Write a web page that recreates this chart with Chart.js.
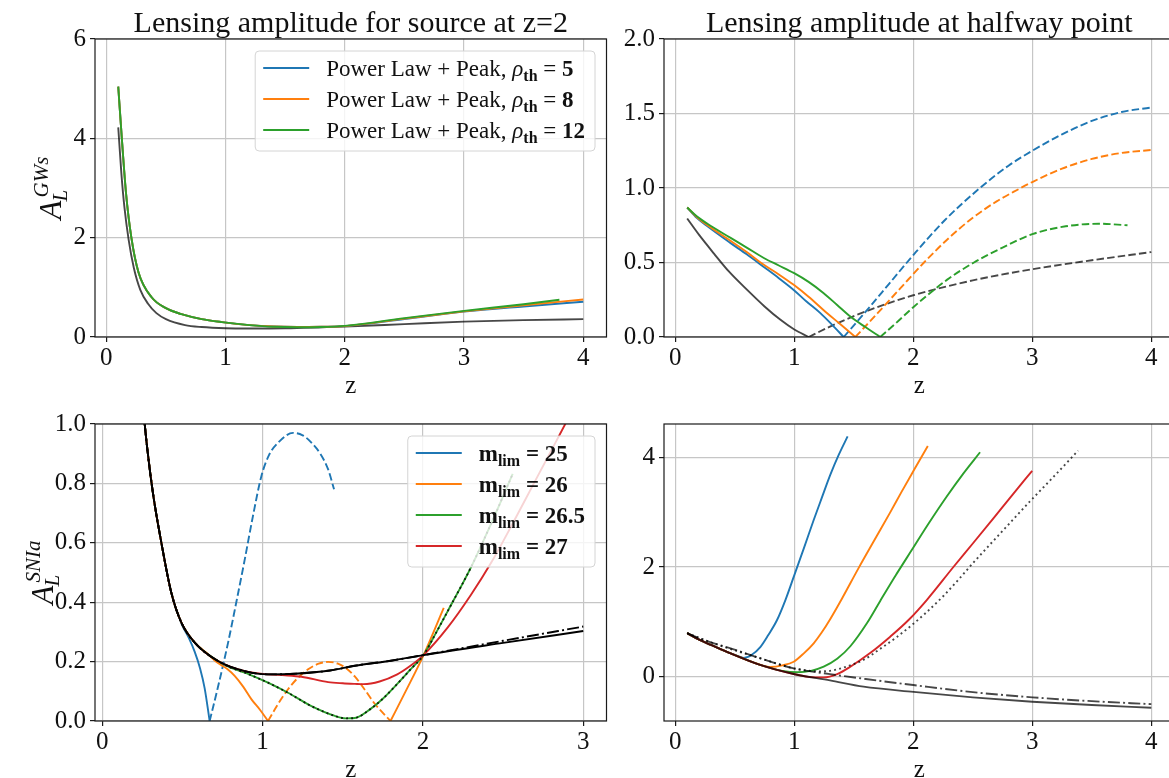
<!DOCTYPE html>
<html>
<head>
<meta charset="utf-8">
<script src="https://cdn.jsdelivr.net/npm/chart.js@4.4.3/dist/chart.umd.min.js"></script>
<style>
  html, body { margin: 0; padding: 0; background: #fff; overflow: hidden; width: 1169px; height: 778px; }
  canvas { position: absolute; }
</style>
</head>
<body>
<canvas id="c-tl" width="617" height="397" style="left:0;top:0"></canvas>
<canvas id="c-tr" width="616" height="397" style="left:569px;top:0"></canvas>
<canvas id="c-bl" width="617" height="393" style="left:0;top:385px"></canvas>
<canvas id="c-br" width="616" height="393" style="left:569px;top:385px"></canvas>
<script>
// ---- top left: lensing amplitude, source at z=2 (GWs)
const tlZBlack = [0.1, 0.126, 0.151, 0.187, 0.23, 0.285, 0.35, 0.42, 0.5, 0.66, 0.8, 1.0, 1.2, 1.5, 2.0, 2.5, 3.0, 3.5, 4.0];
const tlBlack = [4.22, 3.3, 2.63, 1.96, 1.4, 0.95, 0.67, 0.48, 0.36, 0.24, 0.2, 0.175, 0.17, 0.175, 0.21, 0.26, 0.31, 0.34, 0.36];
const tlZPeak = [0.1, 0.13, 0.165, 0.21, 0.27, 0.38, 0.5, 0.63, 0.8, 0.97, 1.2, 1.4, 1.6, 1.8, 2.0, 2.5, 3.0, 3.5, 4.0];
const tlRho5 = [5.04, 4.0, 2.9, 2.0, 1.3, 0.8, 0.58, 0.46, 0.36, 0.3, 0.24, 0.21, 0.2, 0.205, 0.22, 0.36, 0.51, 0.615, 0.71];
const tlRho8 = [5.04, 4.0, 2.9, 2.0, 1.3, 0.8, 0.58, 0.46, 0.36, 0.3, 0.24, 0.21, 0.2, 0.205, 0.22, 0.37, 0.515, 0.64, 0.755];
const tlZRho12 = [0.1, 0.13, 0.165, 0.21, 0.27, 0.38, 0.5, 0.63, 0.8, 0.97, 1.2, 1.4, 1.6, 1.8, 2.0, 2.5, 3.0, 3.5, 3.8];
const tlRho12 = [5.04, 4.0, 2.9, 2.0, 1.3, 0.8, 0.58, 0.46, 0.36, 0.3, 0.24, 0.205, 0.195, 0.2, 0.225, 0.38, 0.525, 0.66, 0.75];
const tlRhoTh = [5, 8, 12];
const tlXTicks = [0, 1, 2, 3, 4];
const tlYTicks = [0, 2, 4, 6];

// ---- top right: halfway point (solid = positive branch, dashed = sign flipped)
const trZBlackS = [0.1, 0.2, 0.325, 0.45, 0.604, 0.75, 0.884, 1.0, 1.121];
const trBlackS = [0.795, 0.685, 0.56, 0.44, 0.316, 0.205, 0.115, 0.05, 0];
const trZBlackD = [1.121, 1.3, 1.5, 1.75, 2.0, 2.5, 3.0, 3.5, 4.0];
const trBlackD = [0, 0.07, 0.14, 0.215, 0.28, 0.38, 0.455, 0.515, 0.57];
const trZBlueS = [0.1, 0.18, 0.27, 0.465, 0.6, 0.744, 0.87, 0.995, 1.1, 1.219, 1.32, 1.415];
const trBlueS = [0.869, 0.8, 0.743, 0.63, 0.555, 0.47, 0.395, 0.316, 0.24, 0.16, 0.08, 0];
const trZBlueD = [1.415, 1.6, 1.8, 2.0, 2.26, 2.56, 2.8, 3.0, 3.25, 3.5, 3.75, 4.0];
const trBlueD = [0, 0.17, 0.36, 0.55, 0.78, 1.0, 1.15, 1.25, 1.36, 1.45, 1.51, 1.54];
const trZOrangeS = [0.1, 0.18, 0.27, 0.465, 0.6, 0.744, 0.87, 0.995, 1.12, 1.247, 1.38, 1.513];
const trOrangeS = [0.869, 0.805, 0.75, 0.645, 0.57, 0.485, 0.42, 0.35, 0.27, 0.18, 0.09, 0];
const trZOrangeD = [1.513, 1.7, 1.9, 2.09, 2.3, 2.5, 2.7, 2.88, 3.0, 3.25, 3.5, 3.75, 4.0];
const trOrangeD = [0, 0.16, 0.335, 0.5, 0.665, 0.8, 0.91, 0.99, 1.04, 1.13, 1.195, 1.235, 1.255];
const trZGreenS = [0.1, 0.18, 0.27, 0.465, 0.6, 0.744, 0.87, 0.995, 1.12, 1.247, 1.36, 1.471, 1.6, 1.722];
const trGreenS = [0.869, 0.81, 0.76, 0.665, 0.6, 0.53, 0.48, 0.43, 0.37, 0.294, 0.215, 0.137, 0.065, 0];
const trZGreenD = [1.722, 1.85, 2.0, 2.285, 2.51, 2.75, 3.0, 3.28, 3.56, 3.8];
const trGreenD = [0, 0.09, 0.2, 0.385, 0.5, 0.6, 0.69, 0.743, 0.76, 0.75];
const trYTicks = [0, 0.5, 1, 1.5, 2];

// ---- bottom left: SNIa
const blZBlack = [0.2, 0.235, 0.265, 0.29, 0.316, 0.369, 0.431, 0.494, 0.577, 0.722, 0.889, 1.034, 1.2, 1.42, 1.576, 1.8, 2.004, 2.5, 3.0];
const blBlack = [1.55, 1.2, 1.0, 0.875, 0.769, 0.6, 0.432, 0.331, 0.264, 0.202, 0.168, 0.157, 0.159, 0.17, 0.186, 0.203, 0.222, 0.263, 0.303];
const blBlackDD = [1.55, 1.2, 1.0, 0.875, 0.769, 0.6, 0.432, 0.331, 0.264, 0.202, 0.168, 0.157, 0.159, 0.17, 0.186, 0.203, 0.222, 0.27, 0.318];
const blZBlueS = [0.2, 0.235, 0.265, 0.316, 0.369, 0.431, 0.494, 0.54, 0.577, 0.61, 0.639, 0.67];
const blBlueS = [1.55, 1.2, 1.0, 0.769, 0.6, 0.432, 0.328, 0.28, 0.233, 0.178, 0.11, 0];
const blZBlueD = [0.67, 0.72, 0.785, 0.84, 0.889, 0.94, 0.993, 1.04, 1.097, 1.19, 1.25, 1.3, 1.36, 1.409, 1.446];
const blBlueD = [0, 0.11, 0.264, 0.41, 0.544, 0.69, 0.825, 0.895, 0.937, 0.97, 0.962, 0.94, 0.9, 0.847, 0.78];
const blZOrangeS1 = [0.2, 0.235, 0.265, 0.316, 0.369, 0.431, 0.494, 0.577, 0.65, 0.722, 0.78, 0.826, 0.88, 0.931, 0.985, 1.034];
const blOrangeS1 = [1.55, 1.2, 1.0, 0.769, 0.6, 0.432, 0.331, 0.264, 0.23, 0.195, 0.175, 0.152, 0.115, 0.073, 0.037, 0];
const blZOrangeD = [1.034, 1.1, 1.159, 1.22, 1.284, 1.35, 1.409, 1.47, 1.52, 1.575, 1.63, 1.7, 1.798];
const blOrangeD = [0, 0.06, 0.107, 0.145, 0.174, 0.193, 0.199, 0.193, 0.178, 0.15, 0.111, 0.058, 0];
const blZOrangeS2 = [1.798, 1.9, 2.004, 2.13];
const blOrangeS2 = [0, 0.108, 0.222, 0.381];
const blZGreen = [0.2, 0.235, 0.265, 0.316, 0.369, 0.431, 0.494, 0.577, 0.722, 0.8, 0.889, 0.96, 1.034, 1.159, 1.305, 1.451, 1.52, 1.576, 1.672, 1.75, 1.84, 1.92, 2.004, 2.08, 2.155, 2.302, 2.43, 2.56];
const blGreen = [1.55, 1.2, 1.0, 0.769, 0.6, 0.432, 0.331, 0.264, 0.202, 0.18, 0.163, 0.147, 0.129, 0.095, 0.05, 0.017, 0.009, 0.01, 0.04, 0.075, 0.125, 0.172, 0.222, 0.295, 0.37, 0.52, 0.67, 0.832];
const blZRed = [0.2, 0.235, 0.265, 0.316, 0.369, 0.431, 0.494, 0.577, 0.722, 0.889, 1.034, 1.14, 1.243, 1.409, 1.5, 1.576, 1.63, 1.73, 1.84, 1.92, 2.004, 2.155, 2.3, 2.428, 2.55, 2.692, 2.8, 2.907, 3.0];
const blRed = [1.55, 1.2, 1.0, 0.769, 0.6, 0.432, 0.331, 0.264, 0.202, 0.168, 0.157, 0.154, 0.149, 0.131, 0.127, 0.125, 0.124, 0.133, 0.157, 0.185, 0.222, 0.315, 0.425, 0.535, 0.655, 0.8, 0.91, 1.02, 1.12];
const blMlim = [25, 26, 26.5, 27];
const blXTicks = [0, 1, 2, 3];
const blYTicks = [0, 0.2, 0.4, 0.6, 0.8, 1.0];

// ---- bottom right
const brZBlack = [0.1, 0.2, 0.3, 0.465, 0.7, 0.995, 1.3, 1.582, 2.002, 2.5, 3.0, 3.5, 4.0];
const brBlack = [0.79, 0.67, 0.575, 0.42, 0.22, 0.042, -0.075, -0.19, -0.285, -0.385, -0.465, -0.525, -0.575];
const brZDash = [0.1, 0.2, 0.3, 0.465, 0.7, 0.995, 1.3, 1.6, 2.0, 2.5, 3.0, 3.5, 4.0];
const brDash = [0.79, 0.7, 0.62, 0.512, 0.34, 0.146, 0.04, -0.05, -0.16, -0.29, -0.385, -0.455, -0.51];
const brZBlue = [0.1, 0.2, 0.3, 0.465, 0.54, 0.576, 0.64, 0.716, 0.78, 0.855, 0.926, 0.995, 1.08, 1.163, 1.23, 1.303, 1.375, 1.448];
const brBlue = [0.79, 0.67, 0.575, 0.42, 0.36, 0.335, 0.39, 0.54, 0.75, 1.03, 1.4, 1.82, 2.34, 2.86, 3.26, 3.69, 4.06, 4.39];
const brZOrange = [0.1, 0.2, 0.3, 0.465, 0.7, 0.8, 0.9, 0.995, 1.08, 1.163, 1.23, 1.3, 1.4, 1.54, 1.67, 1.806, 1.9, 2.002, 2.122];
const brOrange = [0.79, 0.67, 0.575, 0.42, 0.22, 0.17, 0.2, 0.267, 0.42, 0.604, 0.8, 1.04, 1.42, 1.98, 2.48, 3.0, 3.37, 3.76, 4.214];
const brZGreen = [0.1, 0.2, 0.3, 0.465, 0.7, 0.9, 1.023, 1.14, 1.247, 1.36, 1.471, 1.61, 1.722, 1.85, 1.987, 2.13, 2.281, 2.42, 2.561];
const brGreen = [0.79, 0.67, 0.575, 0.42, 0.22, 0.1, 0.075, 0.1, 0.176, 0.32, 0.55, 0.97, 1.38, 1.84, 2.31, 2.8, 3.29, 3.71, 4.1];
const brZRed = [0.1, 0.2, 0.3, 0.465, 0.7, 0.995, 1.12, 1.247, 1.36, 1.471, 1.64, 1.806, 1.96, 2.113, 2.337, 2.5, 2.673, 2.84, 2.999];
const brRed = [0.79, 0.67, 0.575, 0.42, 0.22, 0.042, -0.01, -0.02, 0.04, 0.176, 0.43, 0.725, 1.03, 1.396, 2.0, 2.43, 2.89, 3.34, 3.76];
const brZDot = [0.1, 0.3, 0.7, 0.995, 1.1, 1.2, 1.3, 1.4, 1.48, 1.582, 1.72, 1.862, 2.0, 2.1, 2.253, 2.38, 2.505, 2.75, 2.98, 3.2, 3.385];
const brDot = [0.79, 0.62, 0.34, 0.146, 0.11, 0.09, 0.1, 0.15, 0.21, 0.3, 0.5, 0.72, 0.96, 1.15, 1.47, 1.77, 2.08, 2.66, 3.2, 3.7, 4.13];
const brYTicks = [0, 2, 4];

const BLUE = "#1f77b4", ORANGE = "#ff7f0e", GREEN = "#2ca02c", RED = "#d62728";
const GREY = "rgba(0,0,0,0.72)", BLACK = "#000";
const INK = "#111";
const SERIF = '"Liberation Serif", "DejaVu Serif", serif';
const LW = 1.9;
const DASH = [7.5, 3.2];
const DASHDOT = [12, 3.2, 2, 3.2];
const DOT = [1.9, 3.2];

function series(zs, ys, color, dash) {
  return {
    data: zs.map((z, i) => ({ x: z, y: ys[i] })),
    borderColor: color, borderWidth: LW, borderDash: dash || [],
    pointRadius: 0, fill: false, cubicInterpolationMode: "monotone",
  };
}

function rich(ctx, x, y, parts, measure) {
  let cx = x;
  for (const p of parts) {
    ctx.font = `${p.it ? "italic " : ""}${p.b ? "bold " : ""}${p.s || 23}px ${SERIF}`;
    if (!measure) ctx.fillText(p.t, cx, y + (p.dy || 0));
    cx += ctx.measureText(p.t).width;
  }
  return cx - x;
}

function roundBox(ctx, x, y, w, h, r) {
  ctx.beginPath();
  ctx.moveTo(x + r, y);
  ctx.arcTo(x + w, y, x + w, y + h, r);
  ctx.arcTo(x + w, y + h, x, y + h, r);
  ctx.arcTo(x, y + h, x, y, r);
  ctx.arcTo(x, y, x + w, y, r);
  ctx.closePath();
}

function drawLegend(ctx, a, items) {
  ctx.textAlign = "left"; ctx.textBaseline = "alphabetic";
  const tw = Math.max(...items.map((it) => rich(ctx, 0, 0, it.parts, true)));
  const w = 71 + tw + 10, h = items.length * 31 + 7;
  const right = a.right - 11.5, left = right - w, top = a.top + 12;
  roundBox(ctx, left, top, w, h, 4);
  ctx.fillStyle = "rgba(255,255,255,0.8)"; ctx.fill();
  ctx.strokeStyle = "#d4d4d4"; ctx.lineWidth = 1; ctx.setLineDash([]); ctx.stroke();
  items.forEach((it, i) => {
    const cy = top + 17 + i * 31;
    ctx.beginPath(); ctx.moveTo(left + 8, cy); ctx.lineTo(left + 54, cy);
    ctx.strokeStyle = it.color; ctx.lineWidth = LW; ctx.stroke();
    ctx.fillStyle = INK;
    rich(ctx, left + 71, cy + 7.5, it.parts, false);
  });
}

function drawYLabel(ctx, a, lab) {
  ctx.save();
  ctx.translate(lab.x, (a.top + a.bottom) / 2);
  ctx.rotate(-Math.PI / 2);
  ctx.fillStyle = INK; ctx.textAlign = "left"; ctx.textBaseline = "alphabetic";
  ctx.font = `italic 31px ${SERIF}`;
  const wA = ctx.measureText("A").width;
  ctx.font = `italic 21px ${SERIF}`;
  const wS = Math.max(ctx.measureText(lab.sup).width + 3, ctx.measureText("L").width);
  let x = -(wA + wS) / 2;
  ctx.font = `italic 31px ${SERIF}`;
  ctx.fillText("A", x, 0);
  x += wA;
  ctx.font = `italic 21px ${SERIF}`;
  ctx.fillText(lab.sup, x + 3, -13);
  ctx.fillText("L", x - 1, 6);
  ctx.restore();
}

const deco = {
  id: "deco",
  afterDatasetsDraw(chart, args, o) {
    const { ctx, chartArea: a } = chart;
    ctx.save();
    ctx.setLineDash([]);
    ctx.strokeStyle = "#1a1a1a"; ctx.lineWidth = 1.2;
    ctx.strokeRect(a.left, a.top, a.right - a.left, a.bottom - a.top);
    ctx.fillStyle = INK; ctx.textAlign = "center"; ctx.textBaseline = "alphabetic";
    if (o.title) {
      ctx.font = `30px ${SERIF}`;
      ctx.fillText(o.title, (a.left + a.right) / 2, a.top - 7);
    }
    ctx.font = `25px ${SERIF}`;
    ctx.fillText("z", (a.left + a.right) / 2, a.bottom + 56);
    if (o.ylabel) drawYLabel(ctx, a, o.ylabel);
    if (o.legend) drawLegend(ctx, a, o.legend);
    ctx.restore();
  },
};

const GRID = { color: "#c6c6c6", lineWidth: 1.2, tickColor: "#1a1a1a", tickLength: 5, tickWidth: 1.2 };

function panel(id, o) {
  const n = o.series.length;
  const datasets = o.series.map((s, i) => ({ ...s, order: n - i }));
  return new Chart(document.getElementById(id), {
    type: "line",
    data: { datasets },
    options: {
      responsive: false, animation: false, events: [],
      layout: { padding: { top: 39, right: 10.5, left: 0, bottom: 0 } },
      plugins: { legend: { display: false }, tooltip: { enabled: false }, deco: o.deco },
      scales: {
        x: {
          type: "linear", min: o.xMin, max: o.xMax,
          afterFit: (s) => { s.height = o.xH; },
          afterBuildTicks: (s) => { s.ticks = o.xTicks.map((v) => ({ value: v })); },
          grid: GRID, border: { display: false },
          ticks: { color: INK, padding: 1, font: { family: SERIF, size: 25 }, maxRotation: 0, callback: (v) => v.toFixed(0) },
        },
        y: {
          type: "linear", min: o.yMin, max: o.yMax,
          afterFit: (s) => { s.width = 95; },
          afterBuildTicks: (s) => { s.ticks = o.yTicks.map((v) => ({ value: v })); },
          grid: GRID, border: { display: false },
          ticks: { color: INK, padding: 4, font: { family: SERIF, size: 25 }, callback: (v) => v.toFixed(o.yDec) },
        },
      },
    },
    plugins: [deco],
  });
}

const rhoParts = (v) => [{ t: "Power Law + Peak, " }, { t: "ρ", it: true }, { t: "th", b: true, s: 16, dy: 5 }, { t: " = " }, { t: String(v), b: true }];
const mlimParts = (v) => [{ t: "m", b: true }, { t: "lim", b: true, s: 16, dy: 5 }, { t: " = ", b: true }, { t: String(v), b: true }];

panel("c-tl", {
  xMin: -0.095, xMax: 4.195, yMin: 0, yMax: 6, yDec: 0, xH: 60,
  xTicks: tlXTicks, yTicks: tlYTicks,
  series: [
    series(tlZBlack, tlBlack, GREY),
    series(tlZPeak, tlRho5, BLUE),
    series(tlZPeak, tlRho8, ORANGE),
    series(tlZRho12, tlRho12, GREEN),
  ],
  deco: {
    title: "Lensing amplitude for source at z=2",
    ylabel: { x: 61, sup: "GWs" },
    legend: [BLUE, ORANGE, GREEN].map((c, i) => ({ color: c, parts: rhoParts(tlRhoTh[i]) })),
  },
});

panel("c-tr", {
  xMin: -0.095, xMax: 4.195, yMin: 0, yMax: 2, yDec: 1, xH: 60,
  xTicks: tlXTicks, yTicks: trYTicks,
  series: [
    series(trZBlackS, trBlackS, GREY),
    series(trZBlackD, trBlackD, GREY, DASH),
    series(trZBlueS, trBlueS, BLUE),
    series(trZBlueD, trBlueD, BLUE, DASH),
    series(trZOrangeS, trOrangeS, ORANGE),
    series(trZOrangeD, trOrangeD, ORANGE, DASH),
    series(trZGreenS, trGreenS, GREEN),
    series(trZGreenD, trGreenD, GREEN, DASH),
  ],
  deco: { title: "Lensing amplitude at halfway point" },
});

panel("c-bl", {
  xMin: -0.045, xMax: 3.145, yMin: 0, yMax: 1, yDec: 1, xH: 57,
  xTicks: blXTicks, yTicks: blYTicks,
  series: [
    series(blZBlueS, blBlueS, BLUE),
    series(blZBlueD, blBlueD, BLUE, DASH),
    series(blZOrangeS1, blOrangeS1, ORANGE),
    series(blZOrangeD, blOrangeD, ORANGE, DASH),
    series(blZOrangeS2, blOrangeS2, ORANGE),
    series(blZGreen, blGreen, GREEN),
    series(blZRed, blRed, RED),
    series(blZBlack, blBlack, BLACK),
    series(blZBlack, blBlackDD, BLACK, DASHDOT),
    series(blZGreen, blGreen, "rgba(0,0,0,0.8)", DOT),
  ],
  deco: {
    ylabel: { x: 53, sup: "SNIa" },
    legend: [BLUE, ORANGE, GREEN, RED].map((c, i) => ({ color: c, parts: mlimParts(blMlim[i]) })),
  },
});

panel("c-br", {
  xMin: -0.095, xMax: 4.195, yMin: -0.818, yMax: 4.617, yDec: 0, xH: 57,
  xTicks: tlXTicks, yTicks: brYTicks,
  series: [
    series(brZBlue, brBlue, BLUE),
    series(brZOrange, brOrange, ORANGE),
    series(brZGreen, brGreen, GREEN),
    series(brZRed, brRed, RED),
    series(brZBlack, brBlack, GREY),
    series(brZDash, brDash, GREY, DASHDOT),
    series(brZDot, brDot, GREY, DOT),
  ],
  deco: {},
});
</script>
</body>
</html>
